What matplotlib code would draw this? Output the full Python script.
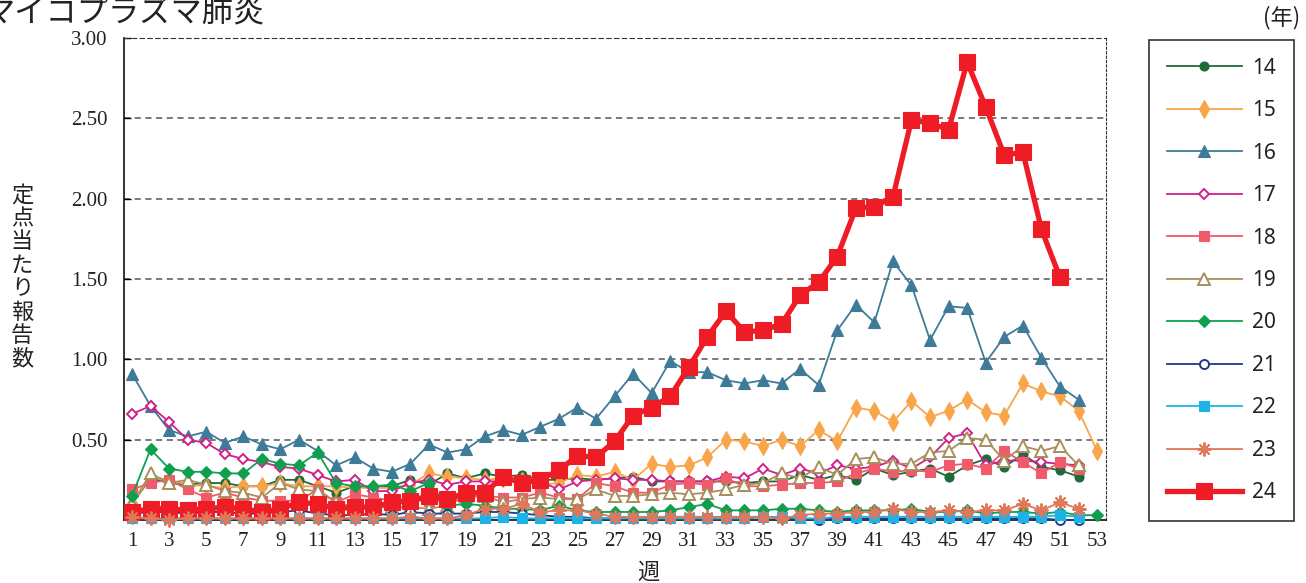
import numpy as np
import matplotlib
matplotlib.use("Agg")
import matplotlib.pyplot as plt

# weekly reports per sentinel site, years 2014-2024
weeks = np.arange(1, 54)
years = ["14", "15", "16", "17", "18", "19", "20", "21", "22", "23", "24"]

y14 = [0.10, 0.26, 0.23, 0.22, 0.23, 0.23, 0.21, 0.21, 0.25, 0.25, 0.21, 0.17, 0.21,
       0.20, 0.21, 0.25, 0.22, 0.29, 0.26, 0.29, 0.27, 0.28, 0.25, 0.25, 0.26, 0.25,
       0.26, 0.27, 0.24, 0.24, 0.24, 0.24, 0.24, 0.23, 0.24, 0.24, 0.28, 0.25, 0.28,
       0.25, 0.32, 0.28, 0.30, 0.32, 0.27, 0.34, 0.38, 0.33, 0.41, 0.33, 0.31, 0.27]
y15 = [0.10, 0.27, 0.25, 0.22, 0.21, 0.20, 0.21, 0.21, 0.23, 0.21, 0.21, 0.21, 0.20,
       0.20, 0.20, 0.22, 0.29, 0.27, 0.26, 0.25, 0.26, 0.24, 0.22, 0.23, 0.28, 0.27,
       0.30, 0.25, 0.35, 0.33, 0.34, 0.39, 0.50, 0.49, 0.46, 0.50, 0.46, 0.56, 0.49,
       0.70, 0.68, 0.61, 0.74, 0.64, 0.68, 0.75, 0.67, 0.65, 0.85, 0.80, 0.77, 0.68, 0.43]
y16 = [0.91, 0.71, 0.56, 0.52, 0.55, 0.48, 0.52, 0.47, 0.44, 0.50, 0.43, 0.34, 0.39,
       0.32, 0.30, 0.35, 0.47, 0.42, 0.44, 0.52, 0.56, 0.53, 0.58, 0.63, 0.70, 0.63,
       0.77, 0.91, 0.79, 0.99, 0.92, 0.92, 0.87, 0.85, 0.87, 0.85, 0.94, 0.84, 1.18,
       1.34, 1.23, 1.61, 1.46, 1.12, 1.33, 1.32, 0.98, 1.14, 1.21, 1.01, 0.83, 0.75]
y17 = [0.66, 0.71, 0.61, 0.50, 0.48, 0.41, 0.38, 0.36, 0.33, 0.32, 0.28, 0.24, 0.25,
       0.18, 0.18, 0.23, 0.25, 0.22, 0.24, 0.24, 0.24, 0.24, 0.24, 0.19, 0.24, 0.25,
       0.26, 0.25, 0.25, 0.24, 0.24, 0.24, 0.27, 0.26, 0.32, 0.28, 0.32, 0.29, 0.34,
       0.32, 0.33, 0.37, 0.32, 0.39, 0.51, 0.54, 0.34, 0.37, 0.37, 0.36, 0.35, 0.34]
y18 = [0.19, 0.23, 0.25, 0.19, 0.14, 0.17, 0.14, 0.12, 0.12, 0.12, 0.19, 0.11, 0.16,
       0.14, 0.12, 0.12, 0.12, 0.12, 0.14, 0.15, 0.14, 0.14, 0.17, 0.14, 0.13, 0.23,
       0.21, 0.17, 0.17, 0.22, 0.23, 0.22, 0.26, 0.21, 0.21, 0.22, 0.23, 0.23, 0.24,
       0.29, 0.32, 0.30, 0.31, 0.30, 0.34, 0.35, 0.32, 0.43, 0.36, 0.29, 0.36, 0.32]
y19 = [0.10, 0.29, 0.23, 0.25, 0.22, 0.18, 0.17, 0.14, 0.23, 0.19, 0.18, 0.11, 0.08,
       0.08, 0.08, 0.08, 0.07, 0.09, 0.15, 0.15, 0.11, 0.13, 0.14, 0.13, 0.13, 0.19,
       0.15, 0.15, 0.16, 0.17, 0.16, 0.17, 0.19, 0.22, 0.23, 0.29, 0.26, 0.33, 0.28,
       0.38, 0.39, 0.35, 0.35, 0.42, 0.43, 0.51, 0.50, 0.37, 0.46, 0.43, 0.46, 0.34]
y20 = [0.15, 0.44, 0.32, 0.30, 0.30, 0.29, 0.29, 0.38, 0.35, 0.34, 0.42, 0.23, 0.21,
       0.21, 0.22, 0.18, 0.23, 0.09, 0.10, 0.09, 0.07, 0.07, 0.06, 0.09, 0.06, 0.05,
       0.05, 0.05, 0.05, 0.06, 0.08, 0.10, 0.06, 0.06, 0.06, 0.07, 0.07, 0.06, 0.05,
       0.06, 0.06, 0.06, 0.07, 0.05, 0.05, 0.06, 0.04, 0.05, 0.05, 0.04, 0.05, 0.03, 0.03]
y21 = [0.04, 0.05, 0.05, 0.04, 0.05, 0.05, 0.04, 0.04, 0.05, 0.06, 0.04, 0.03, 0.03,
       0.04, 0.03, 0.05, 0.04, 0.04, 0.04, 0.05, 0.05, 0.04, 0.03, 0.02, 0.02, 0.01,
       0.01, 0.01, 0.01, 0.01, 0.01, 0.01, 0.01, 0.01, 0.02, 0.01, 0.01, 0.00, 0.01,
       0.01, 0.01, 0.01, 0.01, 0.01, 0.01, 0.01, 0.01, 0.01, 0.01, 0.01, 0.00, 0.00]
y22 = [0.01, 0.01, 0.01, 0.01, 0.01, 0.01, 0.01, 0.01, 0.01, 0.01, 0.01, 0.01, 0.01,
       0.01, 0.01, 0.01, 0.01, 0.01, 0.01, 0.01, 0.02, 0.01, 0.01, 0.01, 0.01, 0.01,
       0.01, 0.01, 0.01, 0.01, 0.01, 0.01, 0.01, 0.01, 0.02, 0.02, 0.01, 0.01, 0.02,
       0.02, 0.02, 0.02, 0.02, 0.02, 0.02, 0.02, 0.02, 0.02, 0.02, 0.02, 0.03, 0.02]
y23 = [0.02, 0.01, 0.00, 0.01, 0.01, 0.01, 0.01, 0.01, 0.01, 0.01, 0.01, 0.01, 0.01,
       0.01, 0.01, 0.02, 0.01, 0.01, 0.03, 0.07, 0.07, 0.10, 0.05, 0.06, 0.06, 0.04,
       0.02, 0.02, 0.02, 0.02, 0.02, 0.02, 0.02, 0.02, 0.02, 0.01, 0.03, 0.04, 0.04,
       0.05, 0.05, 0.07, 0.05, 0.05, 0.06, 0.05, 0.06, 0.06, 0.10, 0.06, 0.11, 0.07]
y24 = [0.05, 0.07, 0.07, 0.06, 0.07, 0.08, 0.07, 0.05, 0.07, 0.11, 0.10, 0.07, 0.08,
       0.08, 0.11, 0.12, 0.15, 0.13, 0.17, 0.17, 0.27, 0.23, 0.25, 0.31, 0.40, 0.39,
       0.49, 0.65, 0.70, 0.77, 0.95, 1.14, 1.30, 1.17, 1.18, 1.22, 1.40, 1.48, 1.64,
       1.94, 1.95, 2.01, 2.49, 2.47, 2.43, 2.85, 2.57, 2.27, 2.29, 1.81, 1.51]

series = [y14, y15, y16, y17, y18, y19, y20, y21, y22, y23, y24]

# (color, marker, markersize, face, linewidth, zorder)
styles = [
    ("#1d6b3a", "o", 6.5, None, 1.3, 3),
    ("#f9a54a", "d", 9, None, 1.3, 3),
    ("#3e7b98", "^", 8.5, None, 1.3, 3),
    ("#d0218a", "D", 5.5, "white", 1.3, 3),
    ("#ef5b6b", "s", 7, None, 1.3, 3),
    ("#a88f5c", "^", 8.5, "white", 1.3, 3),
    ("#0fa04f", "D", 6, None, 1.3, 3),
    ("#1f3a8a", "o", 6.5, "white", 1.3, 3),
    ("#1bb3e8", "s", 6.5, None, 1.3, 3),
    ("#e0765a", (8, 2, 0), 10, None, 1.3, 6),
    ("#ee1c25", "s", 11, None, 3.8, 5),
]

plt.rcParams['font.family'] = ['Noto Sans CJK JP', 'DejaVu Sans']

fig = plt.figure(figsize=(13.06, 5.83), dpi=100)
ax = fig.add_axes([124 / 1306, 1 - 520 / 583, (1106 - 124) / 1306, (520 - 38) / 583])

handles = []
for yr, ys, (col, mk, ms, face, lw, z) in zip(years, series, styles):
    n = len(ys)
    h, = ax.plot(weeks[:n], ys, color=col, marker=mk, markersize=ms, lw=lw,
                 markerfacecolor=face if face else col, markeredgecolor=col,
                 markeredgewidth=1.4 if face or isinstance(mk, tuple) else 0.8,
                 zorder=z, label=yr, clip_on=False)
    handles.append(h)

ax.set_xlim(0.57, 53.48)
ax.set_ylim(0, 3.0)

ax.set_yticks([0.5, 1.0, 1.5, 2.0, 2.5, 3.0])
ax.set_yticklabels(["0.50", "1.00", "1.50", "2.00", "2.50", "3.00"],
                   family="Liberation Serif", fontsize=15, color="#222222")
ax.set_xticks(weeks[::2])
ax.set_xticklabels([str(w) for w in weeks[::2]], family="Liberation Serif",
                   fontsize=15, color="#222222")
ax.tick_params(axis="y", direction="in", length=5, width=1, pad=12)
ax.tick_params(axis="x", length=0, pad=9)

for v in [0.5, 1.0, 1.5, 2.0, 2.5]:
    ax.axhline(v, color="#555555", lw=1.1, ls=(0, (4, 3)), zorder=1)

for s in ["left", "bottom"]:
    ax.spines[s].set_color("#111111")
    ax.spines[s].set_linewidth(1.2)
ax.spines["top"].set_linestyle((0, (4, 3)))
ax.spines["top"].set_color("#333333")
ax.spines["right"].set_linestyle((0, (2, 2)))
ax.spines["right"].set_color("#333333")

leg = fig.legend(handles=handles, loc="upper left",
                 bbox_to_anchor=(1149 / 1306, 1 - 40 / 583),
                 prop={"family": "Noto Sans", "size": 15},
                 handlelength=3.6, handletextpad=0.5, labelspacing=1.03,
                 borderpad=0.85, borderaxespad=0, fancybox=False,
                 edgecolor="#333333", framealpha=1, markerscale=1.0)
leg.get_frame().set_linewidth(1.2)
for t in leg.get_texts():
    t.set_color("#222222")

fig.text(-16 / 1306, 1 - 13 / 583, "マイコプラズマ肺炎", fontsize=22.5,
         va="center", ha="left", color="#222222")
fig.text(22 / 1306, 1 - 277 / 583, "\n".join("定点当たり報告数"), fontsize=16,
         va="center", ha="center", linespacing=1.02, color="#222222")
fig.text(648 / 1306, 1 - 572 / 583, "週", fontsize=16, va="center",
         ha="center", color="#222222")
fig.text(1263 / 1306, 1 - 18 / 583, "(年)", fontsize=16, va="center",
         ha="left", color="#222222")

fig.savefig("out.png", dpi=100)
